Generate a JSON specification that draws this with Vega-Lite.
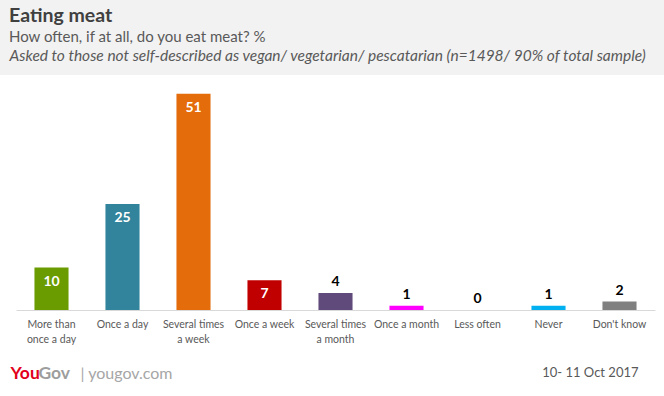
{
  "$schema": "https://vega.github.io/schema/vega-lite/v6.json",
  "width": 664,
  "height": 321,
  "autosize": "none",
  "padding": {"left": 0, "top": 75, "right": 0, "bottom": 0},
  "background": "#f2f2f2",
  "config": {
    "view": {"fill": "white", "stroke": null},
    "font": "Lato"
  },
  "title": {
    "text": "Eating meat",
    "subtitle": "How often, if at all, do you eat meat? %",
    "anchor": "start",
    "frame": "group",
    "dx": 9,
    "offset": 2,
    "font": "Lato",
    "fontSize": 19.5,
    "fontWeight": "bold",
    "color": "#404040",
    "subtitleFont": "Lato",
    "subtitleFontSize": 15,
    "subtitleColor": "#595959",
    "subtitlePadding": 4
  },
  "data": {
    "values": [
      {"answer": "More than|once a day", "value": 10},
      {"answer": "Once a day", "value": 25},
      {"answer": "Several times|a week", "value": 51},
      {"answer": "Once a week", "value": 7},
      {"answer": "Several times|a month", "value": 4},
      {"answer": "Once a month", "value": 1},
      {"answer": "Less often", "value": 0},
      {"answer": "Never", "value": 1},
      {"answer": "Don't know", "value": 2}
    ]
  },
  "resolve": {"axis": {"x": "independent", "y": "independent"}},
  "layer": [
    {
      "mark": {"type": "bar"},
      "encoding": {
        "x": {
          "field": "answer",
          "type": "nominal",
          "sort": null,
          "scale": {"range": [16, 655], "paddingInner": 0.52, "paddingOuter": 0.26},
          "axis": {
            "orient": "bottom",
            "offset": -86,
            "labelExpr": "split(datum.value, '|')",
            "labelAngle": 0,
            "labelFont": "Lato",
            "labelFontSize": 10.5,
            "labelColor": "#595959",
            "labelPadding": 9,
            "labelLineHeight": 15,
            "labelOverlap": false,
            "labelBound": false,
            "ticks": false,
            "domainColor": "#d9d9d9",
            "domainWidth": 1.2,
            "title": "10- 11 Oct 2017",
            "titleFont": "Lato",
            "titleFontSize": 13,
            "titleFontWeight": "normal",
            "titleColor": "#595959",
            "titleAlign": "right",
            "titleBaseline": "middle",
            "titleAnchor": "start",
            "titleX": 638,
            "titleY": 62
          }
        },
        "y": {
          "field": "value",
          "type": "quantitative",
          "scale": {"domain": [-20.28, 55.42], "nice": false, "zero": false},
          "axis": {
            "orient": "left",
            "grid": false,
            "domain": false,
            "ticks": false,
            "values": [-14.86],
            "labelExpr": "'| yougov.com'",
            "labelAlign": "left",
            "labelBaseline": "middle",
            "labelPadding": -80,
            "labelFont": "Lato",
            "labelFontSize": 16,
            "labelColor": "#a6a6a6",
            "title": "You",
            "titleFont": "Lato",
            "titleFontSize": 17.5,
            "titleFontWeight": "bold",
            "titleColor": "#e2001a",
            "titleAngle": 0,
            "titleAlign": "left",
            "titleBaseline": "middle",
            "titleX": 10,
            "titleY": 298
          }
        },
        "color": {
          "field": "answer",
          "type": "nominal",
          "legend": null,
          "scale": {
            "domain": ["More than|once a day", "Once a day", "Several times|a week", "Once a week", "Several times|a month", "Once a month", "Less often", "Never", "Don't know"],
            "range": ["#6a9c00", "#31849b", "#e46c0a", "#c00000", "#604a7b", "#ff00ff", "#bfbfbf", "#00b0f0", "#808080"]
          }
        }
      }
    },
    {
      "transform": [{"filter": "datum.value >= 7"}],
      "mark": {"type": "text", "baseline": "middle", "dy": 14, "fontSize": 14, "fontWeight": "bold", "font": "Lato", "color": "white"},
      "encoding": {
        "x": {"field": "answer", "type": "nominal", "sort": null, "axis": null},
        "y": {
          "field": "value",
          "type": "quantitative",
          "axis": {
            "orient": "right",
            "grid": false,
            "domain": false,
            "ticks": false,
            "labels": false,
            "title": "Gov",
            "titleFont": "Lato",
            "titleFontSize": 17.5,
            "titleFontWeight": "bold",
            "titleColor": "#9d9d9d",
            "titleAngle": 0,
            "titleAlign": "left",
            "titleBaseline": "middle",
            "titleX": -626,
            "titleY": 298
          }
        },
        "text": {"field": "value", "type": "quantitative"}
      }
    },
    {
      "transform": [{"filter": "datum.value < 7"}],
      "mark": {"type": "text", "baseline": "bottom", "dy": -4, "fontSize": 14, "fontWeight": "bold", "font": "Lato", "color": "#000000"},
      "encoding": {
        "x": {
          "field": "answer",
          "type": "nominal",
          "sort": null,
          "axis": {
            "orient": "top",
            "labels": false,
            "ticks": false,
            "domain": false,
            "title": "Asked to those not self-described as vegan/ vegetarian/ pescatarian (n=1498/ 90% of total sample)",
            "titleFont": "Lato",
            "titleFontSize": 15.5,
            "titleFontWeight": "normal",
            "titleFontStyle": "italic",
            "titleColor": "#595959",
            "titleAngle": 0,
            "titleAlign": "left",
            "titleBaseline": "middle",
            "titleAnchor": "start",
            "titleX": 9,
            "titleY": -20
          }
        },
        "y": {"field": "value", "type": "quantitative", "axis": null},
        "text": {"field": "value", "type": "quantitative"}
      }
    }
  ]
}
